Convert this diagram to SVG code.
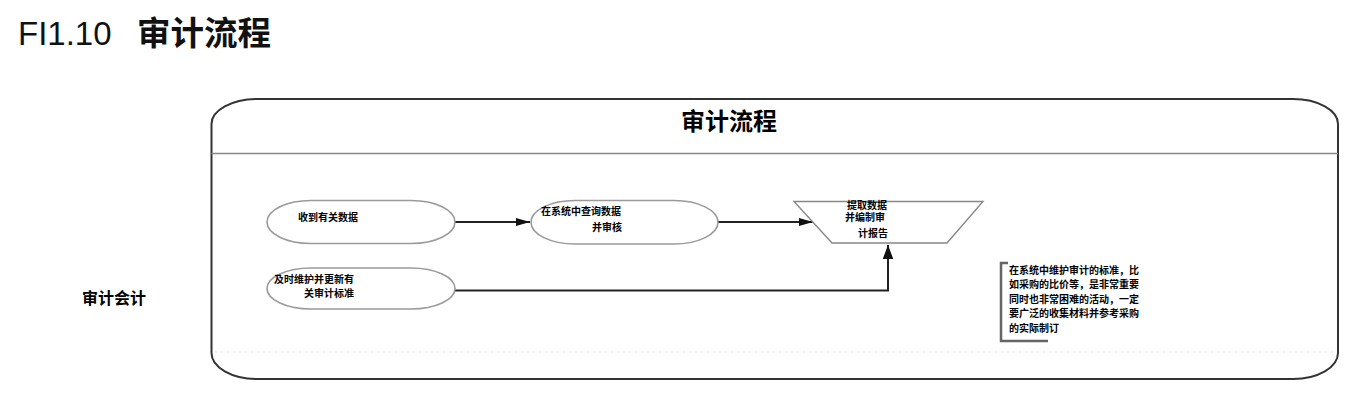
<svg xmlns="http://www.w3.org/2000/svg" width="1360" height="402" viewBox="0 0 1360 402">
<defs>
<style>
.cjk{font-family:"Liberation Serif","Noto Sans CJK SC",serif;font-weight:bold;fill:#000}
.t10{font-size:10px}
.node{fill:#fff;stroke:#9a9a9a;stroke-width:1.6}
.conn{fill:none;stroke:#222;stroke-width:2}
</style>
<marker id="arr" viewBox="0 0 14 10" refX="14" refY="5" markerWidth="15" markerHeight="10" markerUnits="userSpaceOnUse" orient="auto">
<path d="M0,1 L14,5 L0,9 z" fill="#111"/>
</marker>
<marker id="arrUp" viewBox="0 0 12 10" refX="12" refY="5" markerWidth="14" markerHeight="12" markerUnits="userSpaceOnUse" orient="auto">
<path d="M0,0.5 L12,5 L0,9.5 z" fill="#111"/>
</marker>
</defs>
<rect width="1360" height="402" fill="#fff"/>
<g id="header">
<text x="18" y="45" font-family="Liberation Sans,Arial,sans-serif" font-size="33" fill="#111">FI1.10</text>
<text x="137" y="45" font-family="Liberation Serif,Noto Sans CJK SC,serif" font-weight="bold" font-size="33.5" fill="#111">审计流程</text>
</g>
<g id="pool">
<path d="M257,99 L1293,99 A45,25 0 0 1 1338,124 L1338,353 A45,26 0 0 1 1293,379 L257,379 A46,26 0 0 1 211.5,353 L211.5,124 A46,25 0 0 1 257,99 Z" fill="none" stroke="#333" stroke-width="2"/>
<line x1="211.5" y1="153.5" x2="1338" y2="153.5" stroke="#888" stroke-width="1.6"/>
<line x1="215" y1="352" x2="1334" y2="352" stroke="#ddd" stroke-width="1.2" stroke-dasharray="2,4"/>
<text x="729" y="130" text-anchor="middle" class="cjk" font-size="24">审计流程</text>
</g>
<g id="lane">
<text x="114" y="304" text-anchor="middle" class="cjk" font-size="16">审计会计</text>
</g>
<g id="connectors">
<line x1="455" y1="222" x2="530" y2="222" class="conn" marker-end="url(#arr)"/>
<line x1="718" y1="222" x2="813" y2="222" class="conn" marker-end="url(#arr)"/>
<polyline points="455,290.5 888,290.5 888,245" class="conn" marker-end="url(#arrUp)"/>
</g>
<g id="n1">
<rect x="267" y="200.5" width="188" height="43" rx="44" ry="21.5" class="node"/>
<text x="298" y="221" class="cjk t10">收到有关数据</text>
</g>
<g id="n2">
<rect x="531" y="200.5" width="187" height="43.5" rx="44" ry="21.7" class="node"/>
<text x="541" y="215" class="cjk t10">在系统中查询数据</text>
<text x="592" y="231" class="cjk t10">并审核</text>
</g>
<g id="n3">
<polygon points="794,201.5 983,201.5 947,243 832,243" fill="#fff" stroke="#888" stroke-width="1.4"/>
<text x="847" y="209" class="cjk t10">提取数据</text>
<text x="845" y="221" class="cjk t10">并编制审</text>
<text x="858" y="237" class="cjk t10">计报告</text>
</g>
<g id="n4">
<rect x="267" y="268" width="188" height="41" rx="44" ry="20.5" class="node"/>
<text x="274" y="283" class="cjk t10">及时维护并更新有</text>
<text x="304" y="297" class="cjk t10">关审计标准</text>
</g>
<g id="note">
<polyline points="1008,263 1001,263 1001,341 1048,341" fill="none" stroke="#666" stroke-width="2.5"/>
<text x="1009" y="274" class="cjk t10">在系统中维护审计的标准，比</text>
<text x="1009" y="288" class="cjk t10">如采购的比价等，是非常重要</text>
<text x="1009" y="303" class="cjk t10">同时也非常困难的活动，一定</text>
<text x="1009" y="317" class="cjk t10">要广泛的收集材料并参考采购</text>
<text x="1009" y="332" class="cjk t10">的实际制订</text>
</g>
</svg>
